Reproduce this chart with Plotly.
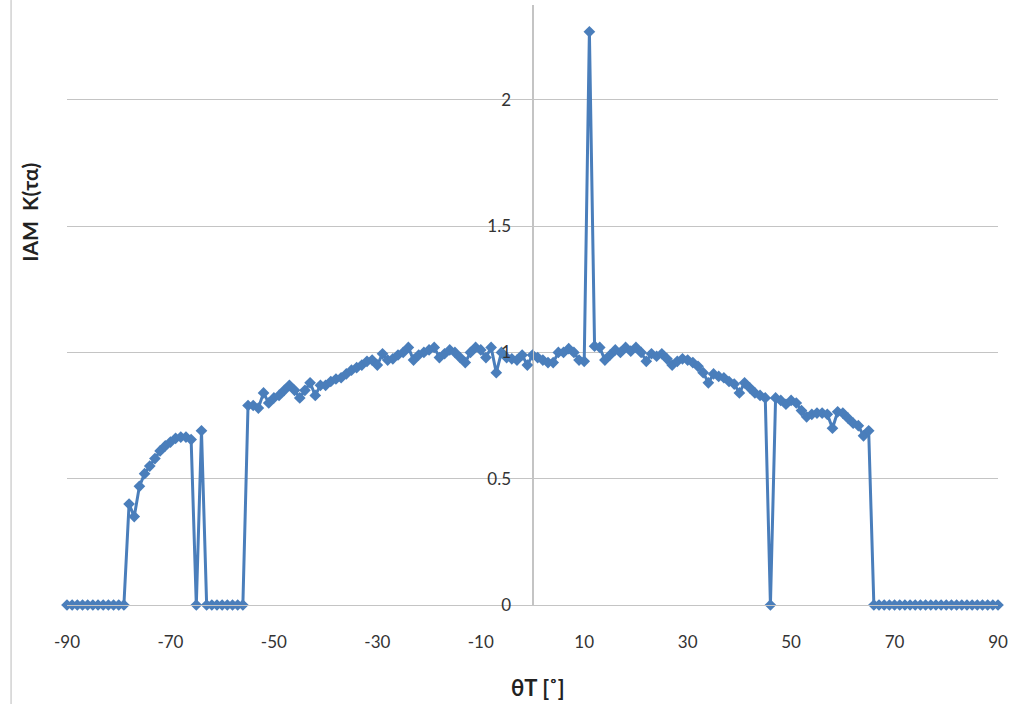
import plotly.graph_objects as go

# Incidence angle theta_T (degrees), 1-degree steps
theta = list(range(-90, 91))

# IAM values, listed by segment
zeros_left = [0.0] * 12  # -90 .. -79
rise_left = [0.40, 0.35, 0.47, 0.52, 0.55, 0.58, 0.61, 0.63, 0.645, 0.66, 0.665, 0.665, 0.655]  # -78 .. -66
gap_left = [0.0, 0.69, 0.0, 0.0, 0.0, 0.0, 0.0, 0.0, 0.0, 0.0]  # -65 .. -56
main_left = [0.79, 0.79, 0.78, 0.84, 0.80, 0.82, 0.83, 0.85, 0.87, 0.85,   # -55 .. -46
             0.82, 0.85, 0.88, 0.83, 0.87, 0.87, 0.885, 0.895, 0.90, 0.915,  # -45 .. -36
             0.93, 0.94, 0.95, 0.965, 0.97, 0.95, 0.995, 0.97, 0.975, 0.99,  # -35 .. -26
             1.00, 1.02, 0.97, 0.99, 1.00, 1.01, 1.02, 0.98, 0.995, 1.01,    # -25 .. -16
             1.00, 0.98, 0.96, 1.00, 1.02, 1.01, 0.98, 1.02, 0.92, 1.00,     # -15 .. -6
             0.98, 0.975, 0.97, 0.99, 0.95]                                 # -5 .. -1
middle = [0.99, 0.98, 0.97, 0.96, 0.96, 1.00, 1.00, 1.015, 1.00, 0.97, 0.965,  # 0 .. 10
          2.27, 1.025, 1.02, 0.97]                                             # 11 .. 14
main_right = [0.99, 1.01, 1.00, 1.02, 1.005, 1.02, 1.00, 0.965, 0.995, 0.985,  # 15 .. 24
              0.995, 0.975, 0.95, 0.965, 0.975, 0.97, 0.96, 0.945, 0.92, 0.88,  # 25 .. 34
              0.915, 0.905, 0.90, 0.885, 0.875, 0.84, 0.88, 0.86, 0.84, 0.83,   # 35 .. 44
              0.82, 0.0, 0.82, 0.81, 0.795, 0.81, 0.80, 0.77, 0.745, 0.755,     # 45 .. 54
              0.76, 0.76, 0.755, 0.70, 0.765, 0.76, 0.74, 0.72, 0.71, 0.67,     # 55 .. 64
              0.69]                                                            # 65
zeros_right = [0.0] * 25  # 66 .. 90

iam = zeros_left + rise_left + gap_left + main_left + middle + main_right + zeros_right

x_ticks = [-90, -70, -50, -30, -10, 10, 30, 50, 70, 90]
x_tick_text = ["-90", "-70", "-50", "-30", "-10", "10", "30", "50", "70", "90"]
y_ticks = [0, 0.5, 1, 1.5, 2]
y_tick_text = ["0", "0.5", "1", "1.5", "2"]

x_title = "θT [˚]"
y_title = "IAM  K(τα)"

BLUE = "#4A7EBB"
GRID = "#C4C4C4"
FONT = "Lato, 'Open Sans', sans-serif"

fig = go.Figure()
fig.add_trace(go.Scatter(
    x=theta, y=iam, mode="lines+markers",
    line=dict(color=BLUE, width=3),
    marker=dict(symbol="diamond", size=9, color=BLUE),
    cliponaxis=False, showlegend=False,
))

fig.update_layout(
    width=1013, height=704,
    margin=dict(l=67, r=15, t=5, b=99),
    paper_bgcolor="white", plot_bgcolor="white",
    font=dict(family=FONT, size=16, color="#333333"),
    xaxis=dict(
        range=[-90, 90], tickvals=x_ticks, ticktext=x_tick_text,
        showgrid=False, zeroline=True,
        zerolinecolor=GRID, zerolinewidth=1,
        showline=True, linecolor=GRID, linewidth=1,
        ticks="", ticklabelstandoff=22,
        tickfont=dict(size=17, color="#333333"),
    ),
    yaxis=dict(
        range=[0, 2.376], tickvals=y_ticks, ticktext=y_tick_text,
        showgrid=True, gridcolor=GRID, gridwidth=1, zeroline=False,
        anchor="free", position=0.5, showline=True, linecolor=GRID, linewidth=1,
        ticks="", ticklabelstandoff=18,
        tickfont=dict(size=17, color="#333333"),
    ),
    annotations=[
        dict(text="<b>" + x_title + "</b>", xref="paper", yref="paper", x=0.506, y=-0.138,
             showarrow=False, font=dict(size=22, family=FONT, color="#222222"),
             xanchor="center", yanchor="middle"),
        dict(text="<b>" + y_title + "</b>", xref="paper", yref="paper", x=-0.040, y=0.655,
             showarrow=False, textangle=-90, font=dict(size=21, family=FONT, color="#222222"),
             xanchor="center", yanchor="middle"),
    ],
    shapes=[
        dict(type="line", xref="paper", yref="paper", x0=-0.0601, x1=-0.0601,
             y0=-0.165, y1=1.0083, line=dict(color="#BBBBBB", width=1)),
    ],
)

fig.write_html("out.html")
